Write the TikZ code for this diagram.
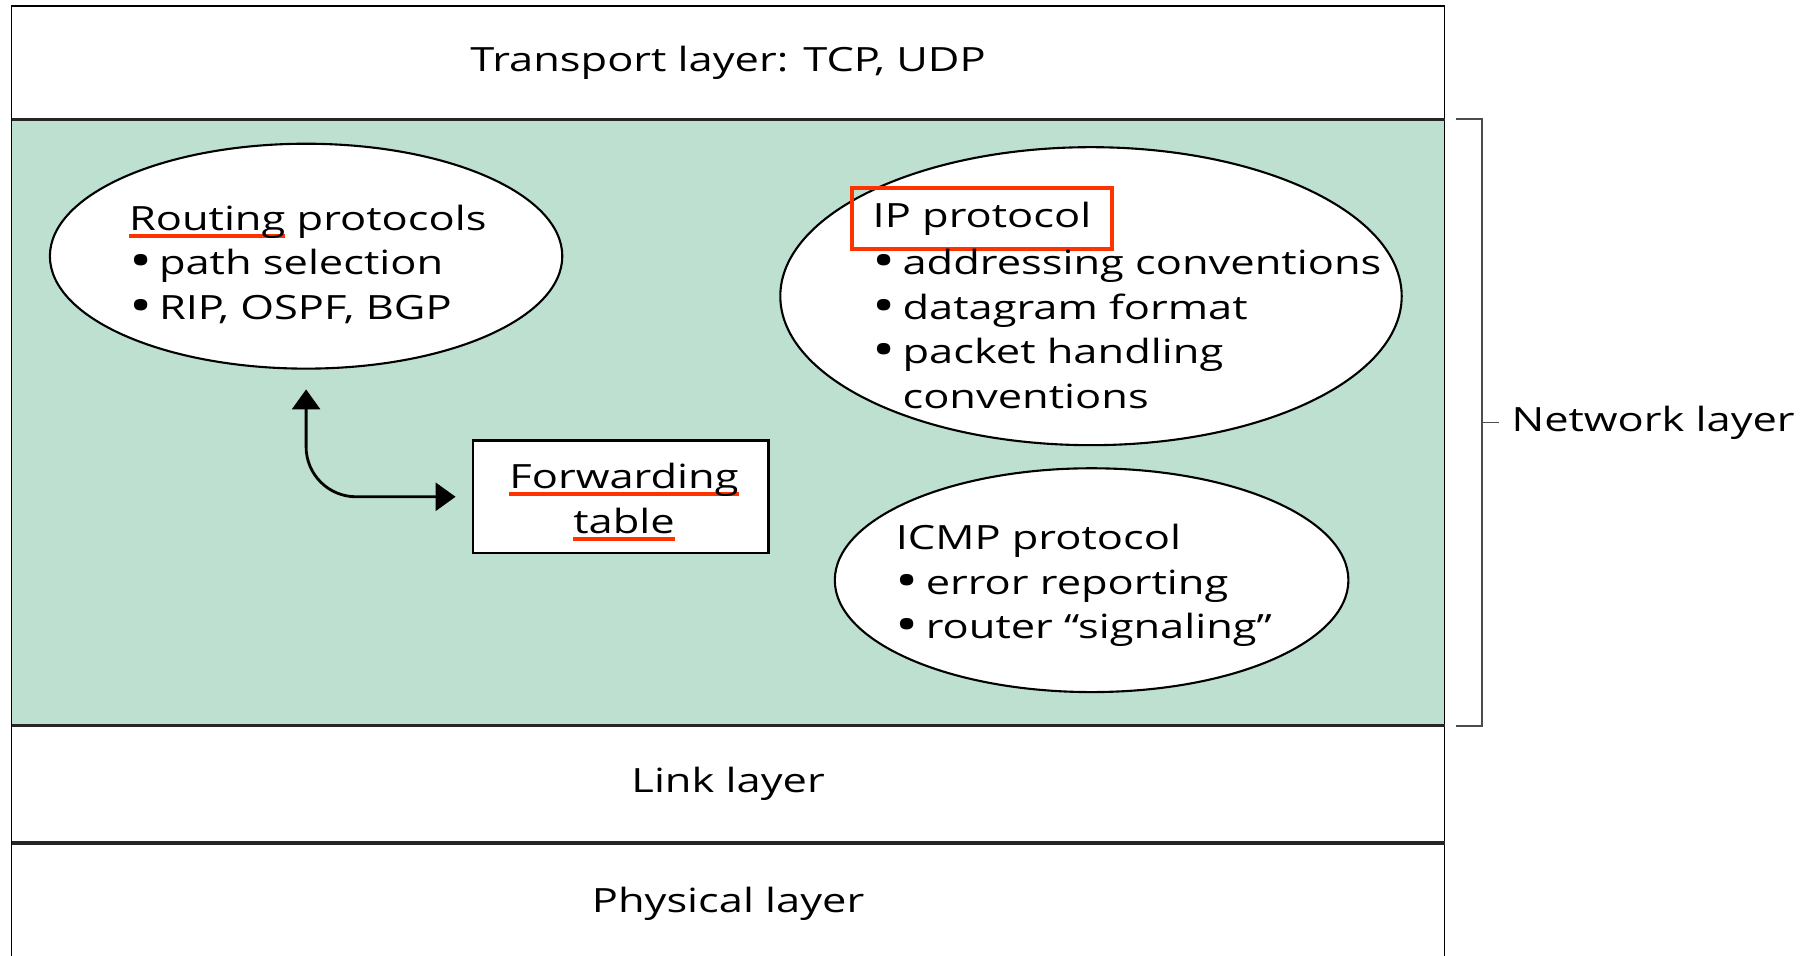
\documentclass[tikz,border=0pt]{standalone}
\usepackage{fontspec}
\setmainfont{Open Sans}[FakeStretch=1.3]
\usetikzlibrary{shapes.geometric,arrows.meta}
\definecolor{netgreen}{RGB}{190,224,208}
\definecolor{markred}{RGB}{255,51,0}
\tikzset{
  layerline/.style={draw=black!85, line width=1pt},
  bubble/.style={shape=ellipse, draw=black, fill=white, line width=0.6pt, inner sep=0pt},
  bubbletext/.style={anchor=base west, align=left, inner sep=0pt},
  tip/.style={line width=0.8pt, {Triangle[length=2mm,width=2.8mm]}-{Triangle[length=2mm,width=2.8mm]}}
}
\newcommand{\bul}{\makebox[0.30cm][l]{\raisebox{-0.9pt}{\fontsize{13.5}{13.5}\selectfont\textbullet}}}
\newcommand{\redul}[1]{\setbox0\hbox{#1}\rlap{\textcolor{markred}{\rule[-2.2pt]{\wd0}{1.2pt}}}\box0\relax}

\begin{document}
\begin{tikzpicture}[font=\fontsize{9.5}{12.7}\selectfont]
    \useasboundingbox (0,0) rectangle (18.18,9.553);
    \clip (0,0) rectangle (18.18,9.553);

    \fill[netgreen] (0.116,2.296) rectangle (14.446,8.359);
    \draw[line width=0.5pt] (0.116,-0.1) -- (0.116,9.495) -- (14.446,9.495) -- (14.446,-0.1);
    \draw[layerline] (0.116,8.359) -- (14.446,8.359);
    \draw[layerline] (0.116,2.296) -- (14.446,2.296);
    \draw[layerline] (0.116,1.125) -- (14.446,1.125);

    \node (transport) at (7.281,8.927) {Transport layer: TCP, UDP};
    \node (link) at (7.281,1.71) {Link layer};
    \node (physical) at (7.281,0.51) {Physical layer};

    \draw[black!70, line width=0.5pt] (14.562,8.359) -- (14.817,8.359) -- (14.817,2.296) -- (14.562,2.296);
    \coordinate (brace) at (14.817,5.328);
    \node[anchor=west] (network) at (14.991,5.328) {Network layer};
    \draw[black!70, line width=0.5pt] (brace) -- (network.west);

    \node[bubble, minimum width=5.124cm, minimum height=2.249cm] (routing) at (3.061,6.991) {};
    \node[bubble, minimum width=6.214cm, minimum height=2.980cm] (ip) at (10.910,6.591) {};
    \node[bubble, minimum width=5.136cm, minimum height=2.238cm] (icmp) at (10.916,3.751) {};
    \node[draw, fill=white, line width=0.75pt, minimum width=2.956cm, minimum height=1.125cm] (fwd) at (6.209,4.585) {};

    \node[bubbletext] (routingtext) at (1.283,6.36) {\redul{Routing} protocols\\\bul path selection\\\bul RIP, OSPF, BGP};
    \node[draw=markred, line width=1.2pt, minimum width=2.597cm, minimum height=0.614cm] (iphead) at (9.820,7.368) {IP protocol};
    \node[bubbletext] (iptext) at (8.719,5.47) {\bul addressing conventions\\\bul datagram format\\\bul packet handling\\\hspace{0.30cm}conventions};
    \node[bubbletext] (icmptext) at (8.951,3.165) {ICMP protocol\\\bul error reporting\\\bul router “signaling”};
    \node[anchor=base, align=center, inner sep=0pt] (fwdtext) at (6.24,4.220) {\redul{Forwarding}\\\redul{table}};

    \draw[tip, rounded corners=0.5cm, shorten <=0.197cm, shorten >=0.162cm] (routing.south) |- (fwd.west);
\end{tikzpicture}
\end{document}
